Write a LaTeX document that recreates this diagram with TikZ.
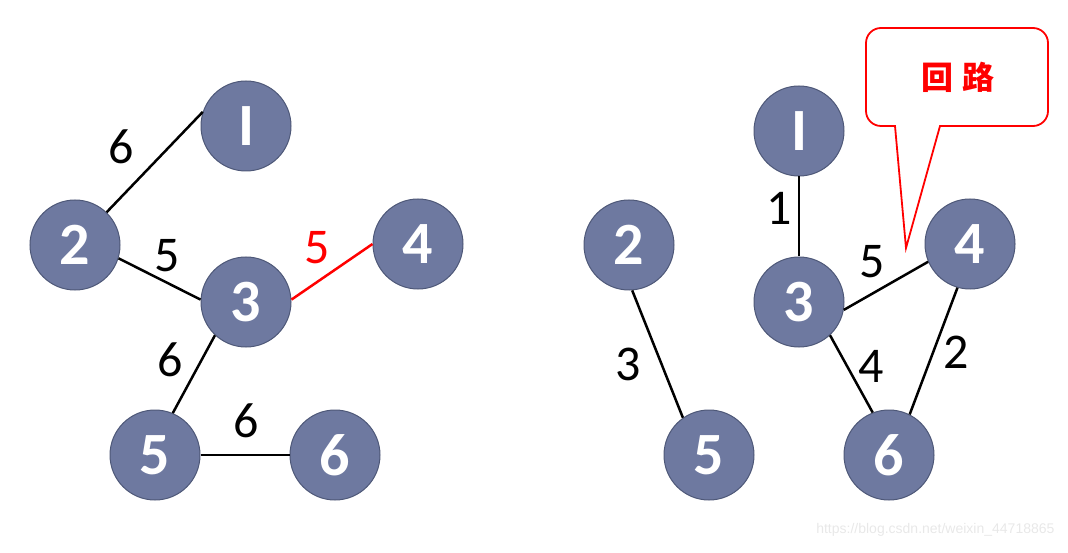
\documentclass[tikz,border=0pt]{standalone}
\usepackage{fontspec}
\setmainfont{Carlito}
\newfontfamily\cjk{Noto Sans CJK SC}
\newfontfamily\wm{Liberation Sans}
\definecolor{nodefill}{RGB}{110,121,160}
\definecolor{nodeedge}{RGB}{78,88,120}
\definecolor{calred}{RGB}{255,0,0}
\definecolor{wmgray}{RGB}{232,232,232}
\begin{document}
\begin{tikzpicture}[x=1pt,y=-1pt,
  vtx/.style={circle,fill=nodefill,draw=nodeedge,line width=1pt,minimum size=90pt,inner sep=0pt,
    text=white,font=\fontsize{60}{60}\selectfont\bfseries},
  edge/.style={line width=2.5pt,black},
  redge/.style={line width=2.5pt,calred},
  wlab/.style={font=\fontsize{50}{50}\selectfont,inner sep=0pt},
  callout/.style={draw=calred,line width=1.8pt,fill=white}]
\useasboundingbox (0,0) rectangle (1068,553);
% left graph
\node[vtx] (l1) at (246,126) {I};
\node[vtx] (l2) at (75,245) {2};
\node[vtx] (l3) at (246,302) {3};
\node[vtx] (l4) at (418,244) {4};
\node[vtx] (l5) at (155,455) {5};
\node[vtx] (l6) at (335,455) {6};
\draw[edge] (l2.46) -- (l1.162);
\draw[edge] (l2.-17) -- (l3.177);
\draw[redge] (l3.3) -- (l4.180);
\draw[edge] (l3.-133) -- (l5.67);
\draw[edge] (l5.east) -- (l6.west);
\node[wlab] (w21) at (121,147) {6};
\node[wlab] (w23) at (167,256) {5};
\node[wlab,text=calred] (w34) at (317,248) {5};
\node[wlab] (w35) at (170,360) {6};
\node[wlab] (w56) at (246,421) {6};
% right graph
\node[vtx] (r1) at (799,131) {I};
\node[vtx] (r2) at (629,245) {2};
\node[vtx] (r3) at (799,302) {3};
\node[vtx] (r4) at (970,244) {4};
\node[vtx] (r5) at (709,455) {5};
\node[vtx] (r6) at (889,455) {6};
\draw[edge] (r1.south) -- (r3.north);
\draw[edge] (r2.-86) -- (r5.125);
\draw[edge] (r3.-10) -- (r4.-157);
\draw[edge] (r3.-47) -- (r6.111);
\draw[edge] (r4.-106) -- (r6.63);
\node[wlab] (v13) at (779,208) {1};
\node[wlab] (v25) at (628,364) {3};
\node[wlab] (v34) at (872,262) {5};
\node[wlab] (v36) at (871,366) {4};
\node[wlab] (v46) at (956,352) {2};
% callout
\coordinate (tip) at (906,248);
\draw[callout] [rounded corners=15pt] (957,28) -- (1048,28) -- (1048,126) [sharp corners] -- (940,126) -- (tip) -- (895,126) [rounded corners=15pt] -- (866,126) -- (866,28) -- cycle;
\node[text=calred,font=\cjk\bfseries\fontsize{32}{32}\selectfont] (cl) at (958,77) {回\hspace{10pt}路};
% watermark
\node[text=wmgray,font=\wm\fontsize{14}{14}\selectfont,anchor=east] (wm) at (1058,530) {https://blog.csdn.net/weixin\_44718865};
\end{tikzpicture}
\end{document}
